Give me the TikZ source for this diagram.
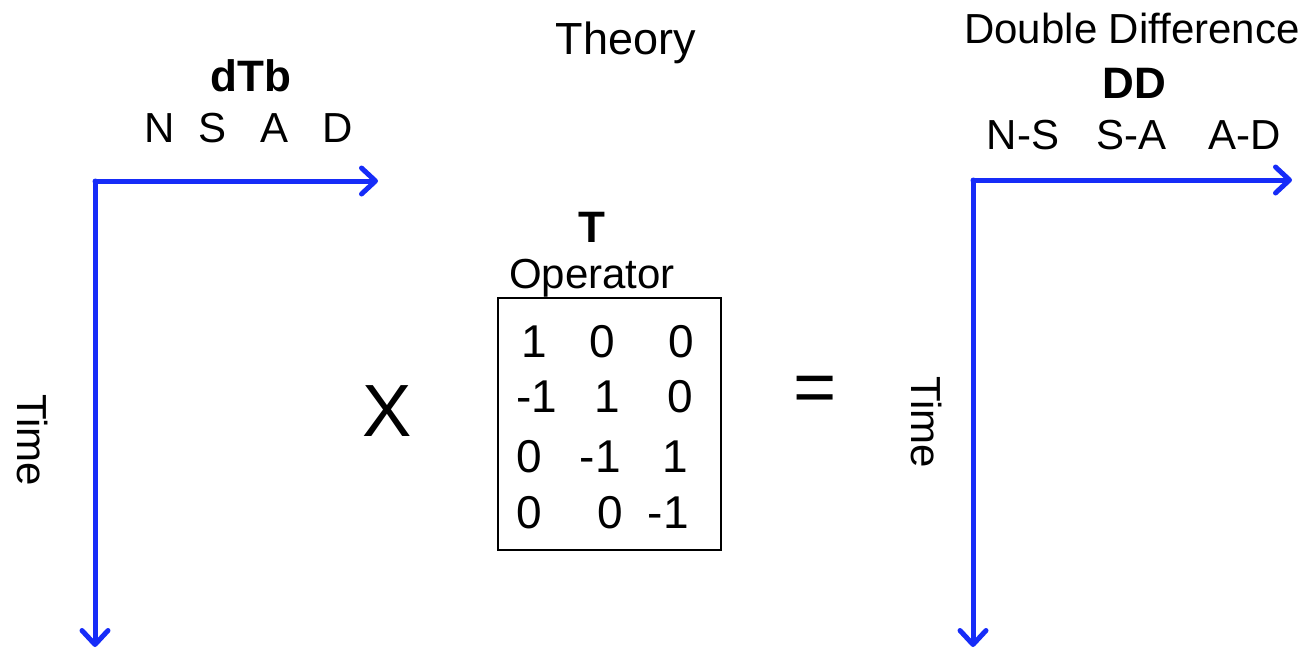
\documentclass[tikz,border=0pt]{standalone}
\usepackage{fontspec}
\setmainfont{Liberation Sans}
\usetikzlibrary{arrows.meta, positioning}
\definecolor{axisblue}{RGB}{22,44,248}

\begin{document}
\begin{tikzpicture}[x=1pt, y=-1pt,
    label/.style={inner sep=0pt, font=\fontsize{42}{48}\selectfont},
    bold/.style={label, font=\fontsize{44}{50}\selectfont\bfseries},
    big/.style={inner sep=0pt, font=\fontsize{74}{80}\selectfont},
    entry/.style={inner sep=0pt, font=\fontsize{46}{50}\selectfont},
    axis/.style={draw=axisblue, line width=5pt, line cap=round, line join=round,
      -{Straight Barb[length=14pt, width=26pt, line cap=round, line join=round]}}]

  \useasboundingbox (0,0) rectangle (1310,651);

  % titles
  \node (theory) [label, font=\fontsize{45}{50}\selectfont] at (626,43) {Theory};
  \node (dtb) [bold] at (251,76) {dTb};
  \node (dd) [bold] at (1134,83) {DD};
  \node (ddname) [label] at (1132,28) {Double Difference};

  % column labels
  \foreach \name/\x in {N/160, S/213, A/275, D/338}
    \node (col\name) [label] at (\x,128) {\name};
  \node (colNS) [label] at (1023,135) {N-S};
  \node (colSA) [label] at (1131,135) {S-A};
  \node (colAD) [label] at (1245,135) {A-D};

  % left axes
  \coordinate (lo) at (95,181);
  \coordinate (lx) at (378,181);
  \coordinate (ly) at (95,647);
  \draw [axis] (lo) -- (lx);
  \draw [axis] (lo) -- (ly);
  \node (ltime) [label, rotate=-90] at (33,440) {Time};

  % right axes
  \coordinate (ro) at (973,180);
  \coordinate (rx) at (1292,180);
  \coordinate (ry) at (973,647);
  \draw [axis] (ro) -- (rx);
  \draw [axis] (ro) -- (ry);
  \node (rtime) [label, rotate=-90] at (927,422) {Time};

  % operator
  \node (times) [big] at (387,411) {X};
  \node (equals) [big] at (815,394) {=};
  \node (tname) [bold] at (592,227) {T};
  \node (opname) [label] at (592,278) {Operator};
  \node (opbox) [draw, line width=1.2pt, minimum width=223pt, minimum height=252pt,
    inner sep=0pt] at (609.5,424) {};

  % matrix entries
  \foreach \v/\x/\y in {1/521/357, -1/516/412, 0/516/472, 0/516/528}
    \node [entry, anchor=base west] at (\x,\y) {\v};
  \foreach \v/\x/\y in {0/615/357, 1/620/412, -1/621/472, 0/623/528,
                        0/694/357, 0/693/412, 1/688/472, -1/689/528}
    \node [entry, anchor=base east] at (\x,\y) {\v};

\end{tikzpicture}
\end{document}
